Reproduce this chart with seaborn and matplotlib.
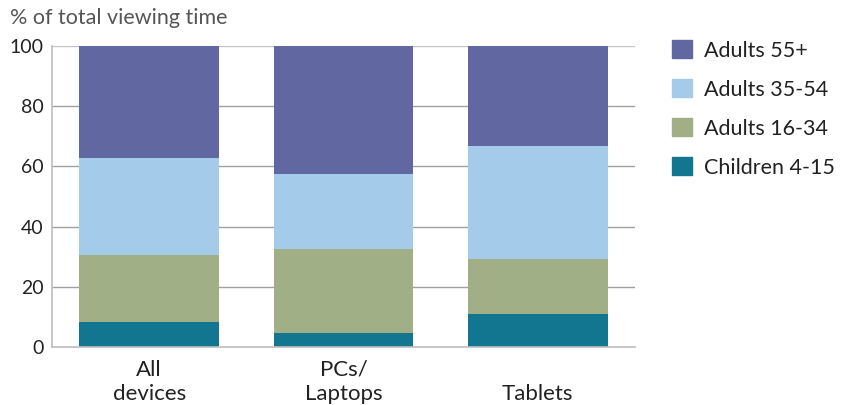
import numpy as np
import pandas as pd
import matplotlib
matplotlib.use("Agg")
import matplotlib.pyplot as plt
import seaborn as sns

# Share of total viewing time by age group, per device
devices = ["All\ndevices", "PCs/\nLaptops", "Tablets"]
children_4_15 = [8.3, 4.7, 11.0]
adults_16_34 = [22.3, 27.9, 18.2]
adults_35_54 = [32.2, 24.9, 37.6]
adults_55_plus = [37.2, 42.5, 33.2]

groups = ["Children 4-15", "Adults 16-34", "Adults 35-54", "Adults 55+"]
colors = {
    "Adults 55+": "#6167a0",
    "Adults 35-54": "#a4cbea",
    "Adults 16-34": "#a0af86",
    "Children 4-15": "#127690",
}
y_ticks = [0, 20, 40, 60, 80, 100]

sns.set_theme(style="white")
plt.rcParams["font.family"] = ["Lato", "DejaVu Sans"]

values = np.array([children_4_15, adults_16_34, adults_35_54, adults_55_plus])
cumulative = values.cumsum(axis=0)

fig = plt.figure(figsize=(8.46, 4.05), dpi=100)
ax = fig.add_axes([0.0615, 0.1432, 0.689, 0.7432])

# Gridlines behind the bars
for t in y_ticks[1:]:
    ax.axhline(t, color="#c4c4c4" if t == 100 else "#a0a0a0", lw=1.0, zorder=0)

# Stacked bars: draw the tallest cumulative layer first, smaller ones on top
for i in range(len(groups) - 1, -1, -1):
    df = pd.DataFrame({"device": devices, "value": cumulative[i]})
    sns.barplot(data=df, x="device", y="value", color=colors[groups[i]],
                width=0.72, saturation=1, linewidth=0, edgecolor="none",
                ax=ax, zorder=2)

ax.set_xlim(-0.5, 2.5)
ax.set_ylim(0, 100)
ax.set_yticks(y_ticks)
ax.set_yticklabels([str(t) for t in y_ticks], fontsize=14, color="#222222")
ax.tick_params(axis="y", length=0, pad=6)

# Single-line labels sit on the second line, bottom-aligned with the others
x_labels = [d if "\n" in d else "\n" + d for d in devices]
ax.set_xticks([0, 1, 2])
ax.set_xticklabels(x_labels, fontsize=16, color="#222222", linespacing=1.3)
ax.set_xticks([-0.5, 0.5, 1.5, 2.5], minor=True)
ax.tick_params(axis="x", which="major", length=0, pad=9)
ax.tick_params(axis="x", which="minor", length=17, width=1.2, color="#bdbdbd",
               direction="out")
ax.set_xlabel("")
ax.set_ylabel("")

for side in ["top", "right"]:
    ax.spines[side].set_visible(False)
for side in ["left", "bottom"]:
    ax.spines[side].set_color("#bdbdbd")
    ax.spines[side].set_linewidth(1.2)

fig.text(10 / 846, 1 - 18 / 405, "% of total viewing time", fontsize=15.5,
         color="#555555", va="center", ha="left")

# Legend, top group first
legend_handles = [plt.Rectangle((0, 0), 1, 1, color=colors[g])
                  for g in reversed(groups)]
fig.legend(legend_handles, list(reversed(groups)), loc="upper left",
           bbox_to_anchor=(672 / 846, 1 - 40 / 405), frameon=False,
           borderpad=0, borderaxespad=0,
           fontsize=15.5, handlelength=0.93, handleheight=0.93,
           handletextpad=0.56, labelspacing=0.86, labelcolor="#222222")

fig.savefig("out.png", dpi=100)
